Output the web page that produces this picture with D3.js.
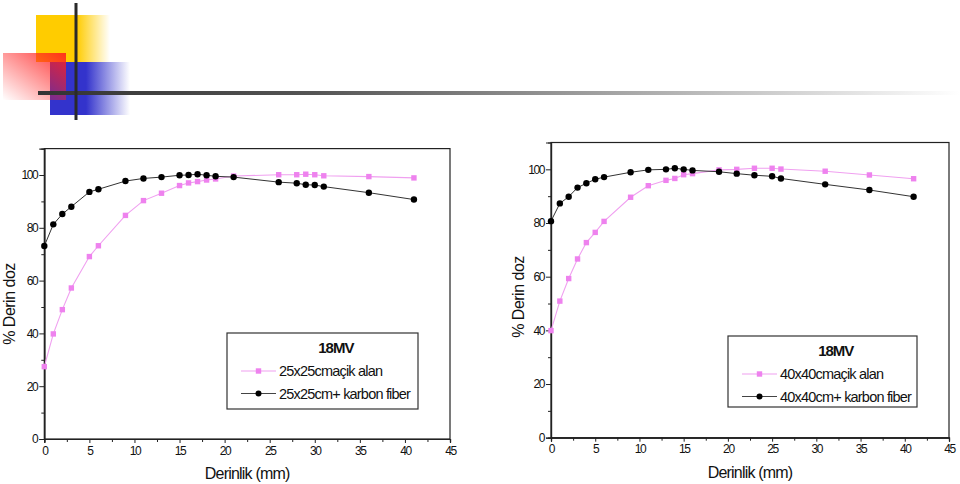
<!DOCTYPE html>
<html><head><meta charset="utf-8">
<script src="https://cdn.jsdelivr.net/npm/d3@7/dist/d3.min.js"></script>
<style>
body{margin:0;background:#fff;}
svg{display:block;font-family:"Liberation Sans",Arial,sans-serif;}
</style></head>
<body><svg id="c" width="960" height="484"></svg>
<script>
// ---- data ----
const depthLeft = [0,1,2,3,5,6,9,11,13,15,16,17,18,19,21,26,28,29,30,31,36,41];
const openLeft  = [27.4,39.8,49.0,57.2,69.1,73.2,84.7,90.3,93.1,96.0,97.0,97.5,98.1,98.5,99.6,100.1,100.1,100.3,100.1,99.7,99.4,98.9];
const fiberLeft = [73.1,81.3,85.2,88.0,93.6,94.6,97.7,98.7,99.2,99.9,100.0,100.3,99.9,99.5,99.2,97.3,96.9,96.3,96.2,95.6,93.3,90.7];

const depthRight = [0,1,2,3,4,5,6,9,11,13,14,15,16,19,21,23,25,26,31,36,41];
const openRight  = [39.9,50.9,59.3,66.6,72.7,76.5,80.6,89.6,93.9,95.9,96.6,98.0,98.4,99.8,100.0,100.4,100.4,100.1,99.3,97.9,96.5];
const fiberRight = [80.7,87.3,89.8,93.2,94.8,96.3,97.1,98.9,99.8,100.0,100.4,100.0,99.6,99.1,98.4,97.8,97.4,96.6,94.4,92.3,89.8];

const xTicks = [0,5,10,15,20,25,30,35,40,45];
const yTicks = [0,20,40,60,80,100];
const legendTitle = "18MV";
const legendLeft = ["25x25cmaçik alan","25x25cm+ karbon fiber"];
const legendRight = ["40x40cmaçik alan","40x40cm+ karbon fiber"];
const xTitle = "Derinlik (mm)";
const yTitle = "% Derin doz";

const svg = d3.select("#c");
const defs = svg.append("defs");

// ---- decorative header ----
function lg(id, stops, x1,y1,x2,y2){
  const g = defs.append("linearGradient").attr("id",id)
    .attr("x1",x1).attr("y1",y1).attr("x2",x2).attr("y2",y2);
  stops.forEach(s=>g.append("stop").attr("offset",s[0]).attr("stop-color",s[1]).attr("stop-opacity",s[2]));
}
lg("gy",[[0,"#ffcc00",1],[0.55,"#ffcc00",1],[1,"#ffcc00",0]],"0","0","1","0");
lg("gb",[[0,"#3333cc",1],[0.45,"#3333cc",1],[1,"#3333cc",0]],"0","0","1","0");
lg("gr",[[0,"#ff2020",1],[1,"#ff2020",0]],"1","0","0","1");
lg("gl",[[0,"#333333",1],[0.3,"#555555",1],[1,"#ffffff",1]],"0","0","1","0");
svg.append("rect").attr("x",36).attr("y",15).attr("width",74).attr("height",47).attr("fill","url(#gy)");
svg.append("rect").attr("x",50).attr("y",62).attr("width",80).attr("height",53).attr("fill","url(#gb)");
svg.append("rect").attr("x",3).attr("y",53).attr("width",63).attr("height",47).attr("fill","url(#gr)").attr("opacity",0.9);
svg.append("rect").attr("x",38).attr("y",91).attr("width",922).attr("height",4).attr("fill","url(#gl)");
svg.append("rect").attr("x",74.5).attr("y",3).attr("width",3).attr("height",117).attr("fill","#2a2a2a");

// ---- charts ----
function drawChart(o){
  const x = d3.scaleLinear().domain([0,45]).range([o.x0,o.x1]);
  const y = d3.scaleLinear().domain([0,110]).range([o.y0,o.y1]);
  const g = svg.append("g");
  g.append("rect").attr("x",o.x0).attr("y",o.y1).attr("width",o.x1-o.x0).attr("height",o.y0-o.y1)
    .attr("fill","none").attr("stroke","#222").attr("stroke-width",1.2);
  const xMinor = d3.range(2.5,45,5);
  const yMinor = d3.range(10,110,20);
  g.append("g").attr("transform",`translate(0,${o.y0})`)
    .call(d3.axisBottom(x).tickValues(xTicks).tickSize(4).tickPadding(3).tickFormat(d3.format("d")));
  g.append("g").attr("transform",`translate(0,${o.y0})`)
    .call(d3.axisBottom(x).tickValues(xMinor).tickSize(3).tickFormat(""));
  g.append("g").attr("transform",`translate(${o.x0},0)`)
    .call(d3.axisLeft(y).tickValues(yTicks).tickSize(5).tickPadding(2).tickFormat(d3.format("d")));
  g.append("g").attr("transform",`translate(${o.x0},0)`)
    .call(d3.axisLeft(y).tickValues(yMinor).tickSize(3).tickFormat(""));
  g.selectAll(".domain").attr("stroke","#222").attr("stroke-width",1.2);
  g.selectAll(".tick line").attr("stroke","#222");
  g.selectAll(".tick text").attr("font-size",12).attr("letter-spacing","-1.4px")
    .attr("font-family","'Liberation Sans',Arial,sans-serif").attr("fill","#111");
  g.append("text").attr("x",(o.x0+o.x1)/2).attr("y",o.y0+40).attr("text-anchor","middle")
    .attr("font-size",16).attr("letter-spacing","-0.8px").attr("fill","#111").text(xTitle);
  g.append("text").attr("transform",`translate(${o.yTitleX},${o.yTitleY}) rotate(-90)`).attr("text-anchor","middle")
    .attr("font-size",16).attr("letter-spacing","-0.5px").attr("fill","#111").text(yTitle);
  const line = d3.line().x(d=>x(d[0])).y(d=>y(d[1]));
  const open = o.depth.map((d,i)=>[d,o.open[i]]);
  const fiber = o.depth.map((d,i)=>[d,o.fiber[i]]);
  g.append("path").datum(open).attr("d",line).attr("fill","none").attr("stroke","#f0a0f0").attr("stroke-width",1.1);
  g.append("path").datum(fiber).attr("d",line).attr("fill","none").attr("stroke","#333").attr("stroke-width",1);
  g.selectAll(".sq").data(open).join("rect").attr("x",d=>x(d[0])-2.7).attr("y",d=>y(d[1])-2.7)
    .attr("width",5.4).attr("height",5.4).attr("fill","#ee82ee");
  g.selectAll(".ci").data(fiber).join("circle").attr("cx",d=>x(d[0])).attr("cy",d=>y(d[1]))
    .attr("r",3.2).attr("fill","#000");
  const L = o.legend;
  g.append("rect").attr("x",L.x).attr("y",L.y).attr("width",L.w).attr("height",L.h)
    .attr("fill","#fff").attr("stroke","#333").attr("stroke-width",1.2);
  g.append("text").attr("x",L.x+L.w*0.57).attr("y",L.y+20).attr("text-anchor","middle")
    .attr("font-size",15).attr("font-weight","bold").attr("letter-spacing","-1px").attr("fill","#111").text(legendTitle);
  const rows = [{c:"#f0a0f0",m:"sq",t:o.labels[0]},{c:"#444",m:"ci",t:o.labels[1]}];
  rows.forEach((r,i)=>{
    const yy = L.y+38+i*22.5;
    g.append("line").attr("x1",L.x+14).attr("x2",L.x+49).attr("y1",yy).attr("y2",yy).attr("stroke",r.c).attr("stroke-width",1.2);
    if(r.m==="sq") g.append("rect").attr("x",L.x+31.5-2.7).attr("y",yy-2.7).attr("width",5.4).attr("height",5.4).attr("fill","#ee82ee");
    else g.append("circle").attr("cx",L.x+31.5).attr("cy",yy).attr("r",3).attr("fill","#000");
    g.append("text").attr("x",L.x+52).attr("y",yy+5).attr("font-size",14.5).attr("letter-spacing","-0.8px")
      .attr("fill","#111").text(r.t);
  });
}

drawChart({x0:44.3,x1:450,y0:439,y1:148.6,depth:depthLeft,open:openLeft,fiber:fiberLeft,
  labels:legendLeft,yTitleX:15,yTitleY:304,legend:{x:227,y:333,w:191,h:76}});
drawChart({x0:551,x1:949,y0:437.7,y1:142.5,depth:depthRight,open:openRight,fiber:fiberRight,
  labels:legendRight,yTitleX:524,yTitleY:297,legend:{x:728,y:336,w:189,h:71}});
</script></body></html>
